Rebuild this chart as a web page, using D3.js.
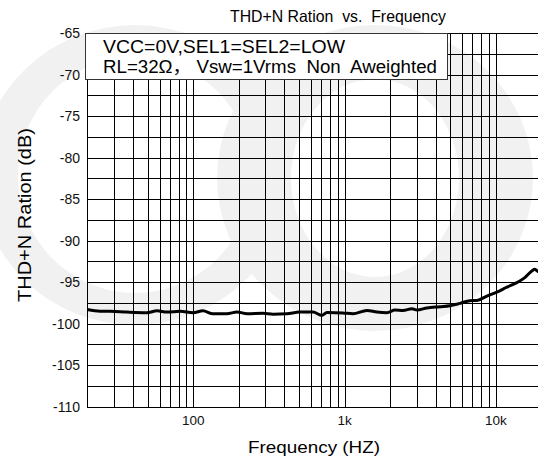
<!DOCTYPE html>
<html lang="en">
<head>
<meta charset="UTF-8">
<title>THD+N Ration vs. Frequency</title>
<script src="https://cdnjs.cloudflare.com/ajax/libs/d3/7.8.5/d3.min.js"></script>
<style>
    body { margin: 0; background: #fff; }
    svg { display: block; font-family: "Liberation Sans", Arial, "Noto Sans CJK SC", sans-serif; }
    svg text { white-space: pre; }
    .grid line { stroke: #000; stroke-width: 1; shape-rendering: crispEdges; }
</style>
</head>
<body>
<div class="chart"></div>
<script>
    // measured curve, frequency (Hz) and THD+N (dB)
    const freq = [20, 24.2, 28.2, 36.5, 49.5, 57.7, 67, 82, 100, 116, 135, 167, 195, 227, 289, 337, 416, 507,
        618, 709, 765, 975, 1135, 1406, 1637, 1905, 2153, 2432, 2788, 3008, 3500, 4266, 4968, 5781, 6730,
        7480, 8710, 10140, 11800, 13740, 15520, 17260, 18070, 18920, 20000];
    const thdn = [-98.3, -98.5, -98.5, -98.6, -98.67, -98.45, -98.6, -98.5, -98.67, -98.45, -98.8, -98.8, -98.6,
        -98.8, -98.75, -98.85, -98.8, -98.6, -98.6, -99.0, -98.65, -98.7, -98.8, -98.4, -98.6, -98.67, -98.35,
        -98.4, -98.2, -98.35, -98.1, -97.95, -97.83, -97.55, -97.23, -97.2, -96.67, -96.2, -95.6, -95.05,
        -94.45, -93.65, -93.45, -93.7, -93.8];

    const yTicks = [-65, -70, -75, -80, -85, -90, -95, -100, -105, -110];
    const xTicks = [100, 1000, 10000];
    const xTickLabels = ["100", "1k", "10k"];
    const legendLines = ["VCC=0V,SEL1=SEL2=LOW", "RL=32\u03a9\uff0c Vsw=1Vrms  Non  Aweighted"];

    const width = 538, height = 462;
    const plotL = 87.4, plotR = 541.5, plotT = 33.2, plotB = 406.7;

    const svg = d3.select('.chart').append('svg')
        .attr('width', width)
        .attr('height', height);

    // faint watermark rings behind the chart
    const wm = svg.append('g').attr('fill', '#f1f1f1').attr('fill-rule', 'evenodd');
    function ring(cx, cy, rxo, ryo, rxi, ryi) {
        return `M${cx - rxo},${cy} a${rxo},${ryo} 0 1,0 ${2 * rxo},0 a${rxo},${ryo} 0 1,0 ${-2 * rxo},0 Z ` +
            `M${cx - rxi},${cy} a${rxi},${ryi} 0 1,0 ${2 * rxi},0 a${rxi},${ryi} 0 1,0 ${-2 * rxi},0 Z`;
    }
    wm.append('path').attr('d', ring(135, 175, 155, 150, 117, 118));
    wm.append('path').attr('d', ring(375, 178, 158, 153, 84, 99));

    const x = d3.scaleLog().domain([20, 20000]).range([plotL, plotR]);
    const y = d3.scaleLinear().domain([-110, -65]).range([plotB, plotT]);

    svg.append('clipPath').attr('id', 'plot')
        .append('rect').attr('x', plotL).attr('y', plotT - 1).attr('width', plotR - plotL).attr('height', plotB - plotT + 2);

    const grid = svg.append('g').attr('class', 'grid');

    let vLines = [];
    for (let dec = 10; dec <= 10000; dec *= 10) {
        for (let m = 1; m <= 9; m++) {
            const f = dec * m;
            if (f >= 20 && f <= 20000) vLines.push(f);
        }
    }
    vLines.push(20000);

    grid.selectAll('.v')
        .data(vLines)
        .enter()
        .append('line')
        .attr('x1', d => Math.round(x(d)) + 0.5)
        .attr('x2', d => Math.round(x(d)) + 0.5)
        .attr('y1', plotT)
        .attr('y2', plotB);

    grid.selectAll('.h')
        .data(d3.range(-110, -64, 2.5))
        .enter()
        .append('line')
        .attr('x1', plotL)
        .attr('x2', width)
        .attr('y1', d => Math.round(y(d)) + 0.5)
        .attr('y2', d => Math.round(y(d)) + 0.5);

    // curve
    const line = d3.line()
        .x((d, i) => x(freq[i]))
        .y(d => y(d))
        .curve(d3.curveMonotoneX);

    svg.append('path')
        .datum(thdn)
        .attr('clip-path', 'url(#plot)')
        .attr('d', line)
        .attr('fill', 'none')
        .attr('stroke', '#000')
        .attr('stroke-width', 3)
        .attr('stroke-linejoin', 'round');

    // legend box
    svg.append('rect')
        .attr('x', 85.5)
        .attr('y', 33.5)
        .attr('width', 362)
        .attr('height', 46)
        .attr('fill', '#fff')
        .attr('stroke', '#333')
        .attr('stroke-width', 1);

    svg.selectAll('.legend')
        .data(legendLines)
        .enter()
        .append('text')
        .attr('x', 103)
        .attr('y', (d, i) => 53 + i * 20)
        .attr('font-size', 17.5)
        .attr('textLength', (d, i) => i == 0 ? 242 : 334)
        .attr('lengthAdjust', 'spacingAndGlyphs')
        .text(d => d);

    // axes labels
    svg.selectAll('.ytick')
        .data(yTicks)
        .enter()
        .append('text')
        .attr('x', 80)
        .attr('y', d => y(d) + 5)
        .attr('text-anchor', 'end')
        .attr('font-size', 14)
        .attr('fill', '#111')
        .text(d => d);

    svg.selectAll('.xtick')
        .data(xTicks)
        .enter()
        .append('text')
        .attr('x', d => x(d))
        .attr('y', 425)
        .attr('text-anchor', 'middle')
        .attr('font-size', 13.5)
        .attr('fill', '#111')
        .text((d, i) => xTickLabels[i]);

    svg.append('text')
        .attr('x', 230)
        .attr('y', 22)
        .attr('font-size', 16.5)
        .attr('textLength', 216)
        .attr('lengthAdjust', 'spacingAndGlyphs')
        .text('THD+N Ration  vs.  Frequency');

    svg.append('text')
        .attr('x', 248)
        .attr('y', 453)
        .attr('font-size', 16)
        .attr('textLength', 132)
        .attr('lengthAdjust', 'spacingAndGlyphs')
        .text('Frequency (HZ)');

    svg.append('text')
        .attr('transform', 'translate(31,302) rotate(-90)')
        .attr('font-size', 18)
        .attr('textLength', 174)
        .attr('lengthAdjust', 'spacingAndGlyphs')
        .text('THD+N Ration (dB)');
</script>
</body>
</html>
